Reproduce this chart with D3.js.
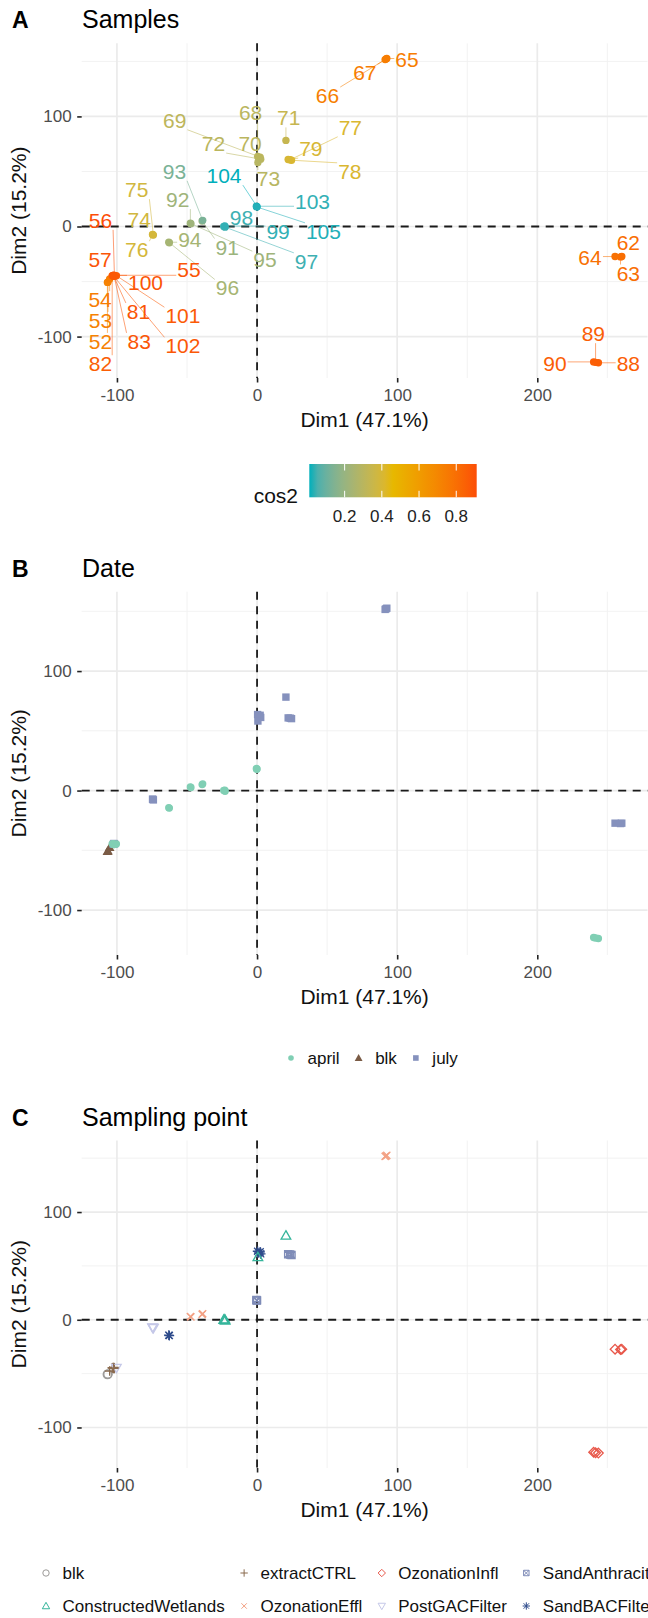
<!DOCTYPE html>
<html>
<head>
<meta charset="utf-8">
<script src="https://cdn.jsdelivr.net/npm/d3@7"></script>
<style>
  body { margin: 0; background: #fff; }
  text { font-family: "Liberation Sans", Arial, sans-serif; }
</style>
</head>
<body>
<svg id="chart"></svg>
<script>
// PCA sample scores
const sampleIds = [52, 53, 54, 55, 56, 57, 62, 63, 64, 65, 66, 67, 68, 69, 70, 71, 72, 73, 74, 75, 76, 77, 78, 79,
  81, 82, 83, 88, 89, 90, 91, 92, 93, 94, 95, 96, 97, 98, 99, 100, 101, 102, 103, 104, 105];
const dim1 = [-106.8, -106.4, -105.2, -102.2, -101.8, -102.6, 260.3, 259.4, 255.5, 92.6, 91.4, 92.0,
  0.4, 2.2, 1.2, 20.6, 2.6, 0.6, -74.4, -74.0, -74.6, 23.6, 24.6, 22.2,
  -102.5, -103.4, -102.0, 243.6, 241.6, 240.2, -39.2, -47.6, -38.8, -63.0, -47.2, -62.6,
  -22.8, -23.8, -23.0, -102.8, -100.4, -102.3, -0.5, 0.0, -0.3];
const dim2 = [-50.8, -50.4, -47.6, -44.3, -44.6, -45.0, -27.3, -27.6, -27.3, 152.6, 151.6, 152.1,
  63.6, 63.0, 62.0, 78.2, 61.2, 58.2, -7.4, -7.8, -7.2, 60.6, 60.2, 60.8,
  -44.8, -44.6, -45.2, -123.8, -123.4, -123.0, 5.0, 3.0, 5.6, -14.3, 2.6, -14.7,
  -0.6, 0.0, 0.4, -44.4, -44.7, -45.2, 18.4, 18.0, 17.8];
const cos2 = [0.72, 0.72, 0.74, 0.89, 0.91, 0.89, 0.80, 0.80, 0.79, 0.74, 0.73, 0.74,
  0.30, 0.31, 0.30, 0.34, 0.30, 0.29, 0.38, 0.38, 0.39, 0.41, 0.41, 0.40,
  0.89, 0.86, 0.89, 0.86, 0.86, 0.86, 0.21, 0.22, 0.13, 0.24, 0.22, 0.24,
  0.04, 0.04, 0.03, 0.89, 0.87, 0.88, 0.03, 0.01, 0.02];
const sampleDate = ["blk", "blk", "blk", "july", "july", "july", "july", "july", "july", "july", "july", "july",
  "july", "july", "july", "july", "july", "july", "july", "july", "july", "july", "july", "july",
  "april", "april", "april", "april", "april", "april", "april", "april", "april", "april", "april", "april",
  "april", "april", "april", "april", "april", "april", "april", "april", "april"];
const sampleSite = ["blk", "blk", "extractCTRL", "extractCTRL", "extractCTRL", "extractCTRL",
  "OzonationInfl", "OzonationInfl", "OzonationInfl", "OzonationEffl", "OzonationEffl", "OzonationEffl",
  "SandBACFilter", "SandBACFilter", "SandBACFilter", "ConstructedWetlands", "SandBACFilter", "ConstructedWetlands",
  "PostGACFilter", "PostGACFilter", "PostGACFilter", "SandAnthracite", "SandAnthracite", "SandAnthracite",
  "extractCTRL", "extractCTRL", "extractCTRL", "OzonationInfl", "OzonationInfl", "OzonationInfl",
  "OzonationEffl", "OzonationEffl", "OzonationEffl", "SandBACFilter", "OzonationEffl", "SandBACFilter",
  "ConstructedWetlands", "ConstructedWetlands", "ConstructedWetlands", "extractCTRL", "PostGACFilter", "extractCTRL",
  "SandAnthracite", "SandAnthracite", "SandAnthracite"];

// where the repelled labels ended up (data units)
const labelSpot = {
  52: [-111.8, -104.5], 53: [-111.8, -85.5], 54: [-112, -66.6], 55: [-48.6, -39.4], 56: [-111.8, 5.5],
  57: [-112, -30.3], 62: [265, -14.5], 63: [265, -42.4], 64: [237.6, -28.7], 65: [107, 151.5],
  66: [50.3, 118.8], 67: [76.9, 139.5], 68: [-4.6, 103.1], 69: [-58.8, 96.4], 70: [-5, 75.2],
  71: [22.6, 98.5], 72: [-31.1, 75.2], 73: [8.2, 43.4], 74: [-84.1, 6.1], 75: [-85.9, 33.4],
  76: [-85.9, -21.2], 77: [66.6, 90], 78: [66.2, 50], 79: [38.4, 70.6], 81: [-84.6, -77.3],
  82: [-111.8, -124.8], 83: [-84.1, -104.5], 88: [265, -124.2], 89: [240, -97.5], 90: [212.6, -124.2],
  91: [-21.3, -18.8], 92: [-56.6, 24.3], 93: [-59, 50], 94: [-48, -12.1], 95: [5.7, -30.3],
  96: [-21.1, -56], 97: [35.3, -31.8], 98: [-11.1, 7.6], 99: [15, -4.5], 100: [-79.6, -50.9],
  101: [-52.9, -81.2], 102: [-52.9, -108.5], 103: [39.6, 22.7], 104: [-23.6, 46.1], 105: [47.4, -4.5]
};

const dateNames = ["april", "blk", "july"];
const dateColors = ["#80cfb4", "#7a5b45", "#8591bd"];
const dateShapes = ["circle", "triangle", "square"];

const siteNames = ["blk", "ConstructedWetlands", "extractCTRL", "OzonationEffl",
  "OzonationInfl", "PostGACFilter", "SandAnthracite", "SandBACFilter"];
const siteColors = ["#9c9a98", "#35b59b", "#8a6a4e", "#f3a184", "#e8574a", "#c5c8e8", "#7f8cb8", "#2f4c8c"];
const siteShapes = ["circle", "triangle", "plus", "cross", "diamond", "triangleDown", "squareCross", "asterisk"];

const gradColors = ["#00AFBB", "#E7B800", "#FC4E07"];
const xTitle = "Dim1 (47.1%)", yTitle = "Dim2 (15.2%)";

const width = 648, height = 1618;
const left = 81.7, right = 647.5;

const rows = sampleIds.map((id, i) => ({
  id, x: dim1[i], y: dim2[i], cos2: cos2[i], date: sampleDate[i], site: sampleSite[i]
}));

const svg = d3.select("#chart").attr("width", width).attr("height", height);

function expand(ext) {
  const pad = (ext[1] - ext[0]) * 0.05;
  return [ext[0] - pad, ext[1] + pad];
}

const x = d3.scaleLinear().domain(expand(d3.extent(dim1))).range([left, right]);
const yDomain = expand(d3.extent(dim2));

const cosExt = d3.extent(cos2);
const cosColor = d3.scaleLinear()
  .domain([cosExt[0], (cosExt[0] + cosExt[1]) / 2, cosExt[1]])
  .range(gradColors)
  .interpolate(d3.interpolateLab);

const dateColor = d3.scaleOrdinal(dateNames, dateColors);
const dateShape = d3.scaleOrdinal(dateNames, dateShapes);
const siteColor = d3.scaleOrdinal(siteNames, siteColors);
const siteShape = d3.scaleOrdinal(siteNames, siteShapes);

function shapePath(kind, r) {
  const t = r * 1.15;
  const a = r * 0.85;
  switch (kind) {
    case "circle": return d3.symbol(d3.symbolCircle, Math.PI * r * r)();
    case "square": return `M${-r},${-r}H${r}V${r}H${-r}Z`;
    case "triangle": return `M0,${-t}L${t},${t * 0.75}L${-t},${t * 0.75}Z`;
    case "triangleDown": return `M0,${t}L${t},${-t * 0.75}L${-t},${-t * 0.75}Z`;
    case "plus": return `M${-t},0H${t}M0,${-t}V${t}`;
    case "cross": return `M${-a},${-a}L${a},${a}M${-a},${a}L${a},${-a}`;
    case "diamond": return `M0,${-t}L${t},0L0,${t}L${-t},0Z`;
    case "squareCross": return `M${-a},${-a}H${a}V${a}H${-a}ZM${-a},${-a}L${a},${a}M${-a},${a}L${a},${-a}`;
    case "asterisk": return `M${-t},0H${t}M0,${-t}V${t}M${-a},${-a}L${a},${a}M${-a},${a}L${a},${-a}`;
  }
}

const panels = [
  { tag: "A", title: "Samples", top: 43.3, bottom: 378 },
  { tag: "B", title: "Date", top: 591.7, bottom: 955 },
  { tag: "C", title: "Sampling point", top: 1140.5, bottom: 1468 }
];

// panel frame: grid, zero lines, axes, titles
function drawFrame(p) {
  const y = d3.scaleLinear().domain(yDomain).range([p.bottom, p.top]);
  p.y = y;
  const g = svg.append("g").attr("class", "panel-" + p.tag);
  p.g = g;

  const xMajor = x.ticks(4), yMajor = y.ticks(4);
  const xMinor = x.ticks(8).filter(v => !xMajor.includes(v));
  const yMinor = y.ticks(8).filter(v => !yMajor.includes(v));

  const grid = g.append("g");
  grid.selectAll(".vminor").data(xMinor).enter().append("line")
    .attr("x1", d => x(d)).attr("x2", d => x(d)).attr("y1", p.top).attr("y2", p.bottom)
    .attr("stroke", "#f0f0f0").attr("stroke-width", 0.9);
  grid.selectAll(".hminor").data(yMinor).enter().append("line")
    .attr("x1", left).attr("x2", right).attr("y1", d => y(d)).attr("y2", d => y(d))
    .attr("stroke", "#f0f0f0").attr("stroke-width", 0.9);
  grid.selectAll(".vmajor").data(xMajor).enter().append("line")
    .attr("x1", d => x(d)).attr("x2", d => x(d)).attr("y1", p.top).attr("y2", p.bottom)
    .attr("stroke", "#ebebeb").attr("stroke-width", 1.7);
  grid.selectAll(".hmajor").data(yMajor).enter().append("line")
    .attr("x1", left).attr("x2", right).attr("y1", d => y(d)).attr("y2", d => y(d))
    .attr("stroke", "#ebebeb").attr("stroke-width", 1.7);

  // zero reference lines
  g.append("line").attr("x1", x(0)).attr("x2", x(0)).attr("y1", p.top).attr("y2", p.bottom)
    .attr("stroke", "#1a1a1a").attr("stroke-width", 1.8).attr("stroke-dasharray", "8,6.5");
  g.append("line").attr("x1", left).attr("x2", right).attr("y1", y(0)).attr("y2", y(0))
    .attr("stroke", "#1a1a1a").attr("stroke-width", 1.8).attr("stroke-dasharray", "8,6.5");

  const xAxis = g.append("g").attr("transform", `translate(0,${p.bottom})`)
    .call(d3.axisBottom(x).tickValues(xMajor).tickSize(4.5).tickPadding(6).tickFormat(d3.format("d")));
  const yAxis = g.append("g").attr("transform", `translate(${left},0)`)
    .call(d3.axisLeft(y).tickValues(yMajor).tickSize(4.5).tickPadding(5.5).tickFormat(d3.format("d")));
  [xAxis, yAxis].forEach(ax => {
    ax.select(".domain").remove();
    ax.selectAll(".tick line").attr("stroke", "#222").attr("stroke-width", 1.6);
    ax.selectAll(".tick text").attr("fill", "#4d4d4d").style("font-size", "17px")
      .style("font-family", '"Liberation Sans", Arial, sans-serif');
  });
  // ggplot writes the minus as a plain hyphen
  g.selectAll(".tick text").text(function () { return this.textContent.replace("\u2212", "-"); });

  g.append("text").attr("x", (left + right) / 2).attr("y", p.bottom + 49)
    .attr("text-anchor", "middle").style("font-size", "21px").attr("fill", "#111").text(xTitle);
  g.append("text").attr("transform", `translate(26,${(p.top + p.bottom) / 2}) rotate(-90)`)
    .attr("text-anchor", "middle").style("font-size", "21px").attr("fill", "#111").text(yTitle);

  g.append("text").attr("x", 12).attr("y", p.top - 15).style("font-size", "23px")
    .style("font-weight", "bold").attr("fill", "#000").text(p.tag);
  g.append("text").attr("x", 82).attr("y", p.top - 15).style("font-size", "25px")
    .attr("fill", "#000").text(p.title);
}

panels.forEach(drawFrame);

// ---------- Panel A: samples coloured by cos2 ----------
const pA = panels[0];
const gA = pA.g.append("g");
const segLayer = gA.append("g");
gA.selectAll(".pt").data(rows).enter().append("circle")
  .attr("cx", d => x(d.x)).attr("cy", d => pA.y(d.y)).attr("r", 3.7)
  .attr("fill", d => cosColor(d.cos2));

const labels = gA.selectAll(".lab").data(rows).enter().append("text")
  .attr("x", d => x(labelSpot[d.id][0]))
  .attr("y", d => pA.y(labelSpot[d.id][1]))
  .attr("dy", "0.35em").attr("text-anchor", "middle")
  .style("font-size", "21px")
  .attr("fill", d => cosColor(d.cos2))
  .text(d => d.id);

// leader segments from the point to the nearest edge of its label
labels.each(function (d) {
  const b = this.getBBox();
  const px = x(d.x), py = pA.y(d.y);
  const x0 = b.x - 1, x1 = b.x + b.width + 1, y0 = b.y + 3, y1 = b.y + b.height - 2;
  const cx = Math.max(x0, Math.min(px, x1)), cy = Math.max(y0, Math.min(py, y1));
  const dist = Math.hypot(cx - px, cy - py);
  if (dist > 7) {
    segLayer.append("line").attr("x1", px).attr("y1", py).attr("x2", cx).attr("y2", cy)
      .attr("stroke", cosColor(d.cos2)).attr("stroke-opacity", 0.65).attr("stroke-width", 0.85);
  }
});

// colour bar legend
const cb = d3.scaleLinear().domain(cosExt).range([309.3, 476.7]);
const cbTop = 464, cbBot = 497.3;
const grad = svg.append("defs").append("linearGradient").attr("id", "cosgrad")
  .attr("x1", "0%").attr("x2", "100%").attr("y1", "0%").attr("y2", "0%");
d3.range(0, 1.0001, 0.05).forEach(t => {
  grad.append("stop").attr("offset", (t * 100) + "%")
    .attr("stop-color", cosColor(cosExt[0] + t * (cosExt[1] - cosExt[0])));
});
const leg = svg.append("g");
leg.append("rect").attr("x", cb.range()[0]).attr("y", cbTop)
  .attr("width", cb.range()[1] - cb.range()[0]).attr("height", cbBot - cbTop)
  .attr("fill", "url(#cosgrad)");
const cbTicks = [0.2, 0.4, 0.6, 0.8];
cbTicks.forEach(v => {
  leg.append("line").attr("x1", cb(v)).attr("x2", cb(v)).attr("y1", cbTop).attr("y2", cbTop + 6.5)
    .attr("stroke", "#fff").attr("stroke-width", 1);
  leg.append("line").attr("x1", cb(v)).attr("x2", cb(v)).attr("y1", cbBot - 6.5).attr("y2", cbBot)
    .attr("stroke", "#fff").attr("stroke-width", 1);
  leg.append("text").attr("x", cb(v)).attr("y", 522).attr("text-anchor", "middle")
    .style("font-size", "17px").attr("fill", "#222").text(v.toFixed(1));
});
leg.append("text").attr("x", 298).attr("y", 503).attr("text-anchor", "end")
  .style("font-size", "21px").attr("fill", "#111").text("cos2");

// ---------- Panel B: by date ----------
const pB = panels[1];
pB.g.append("g").selectAll("path").data(rows).enter().append("path")
  .attr("transform", d => `translate(${x(d.x)},${pB.y(d.y)})`)
  .attr("d", d => shapePath(dateShape(d.date), dateShape(d.date) === "triangle" ? 4.2 : 3.7))
  .attr("fill", d => dateColor(d.date));

const legB = svg.append("g");
let bx = 291;
dateNames.forEach(name => {
  legB.append("path").attr("transform", `translate(${bx},1058)`)
    .attr("d", shapePath(dateShape(name), dateShape(name) === "triangle" ? 3.4 : 2.8))
    .attr("fill", dateColor(name));
  const t = legB.append("text").attr("x", bx + 16.5).attr("y", 1058).attr("dy", "0.35em")
    .style("font-size", "17px").attr("fill", "#111").text(name);
  bx += 16.5 + t.node().getComputedTextLength() + 19;
});

// ---------- Panel C: by sampling point ----------
const pC = panels[2];
pC.g.append("g").selectAll("path").data(rows).enter().append("path")
  .attr("transform", d => `translate(${x(d.x)},${pC.y(d.y)})`)
  .attr("d", d => shapePath(siteShape(d.site), 4.2))
  .attr("fill", "none")
  .attr("stroke", d => siteColor(d.site))
  .attr("stroke-width", 1.3);

// two-row legend, filled column by column
const legC = svg.append("g");
const rowsY = [1573, 1606];
let colX = 46;
for (let c = 0; c < siteNames.length; c += 2) {
  let maxW = 0;
  [0, 1].forEach(k => {
    const name = siteNames[c + k];
    legC.append("path").attr("transform", `translate(${colX},${rowsY[k]})`)
      .attr("d", shapePath(siteShape(name), 3.2))
      .attr("fill", "none").attr("stroke", siteColor(name)).attr("stroke-width", 1);
    const t = legC.append("text").attr("x", colX + 16.5).attr("y", rowsY[k]).attr("dy", "0.35em")
      .style("font-size", "17px").attr("fill", "#111").text(name);
    maxW = Math.max(maxW, t.node().getComputedTextLength());
  });
  colX += 16.5 + maxW + 19.4;
}
</script>
</body>
</html>
